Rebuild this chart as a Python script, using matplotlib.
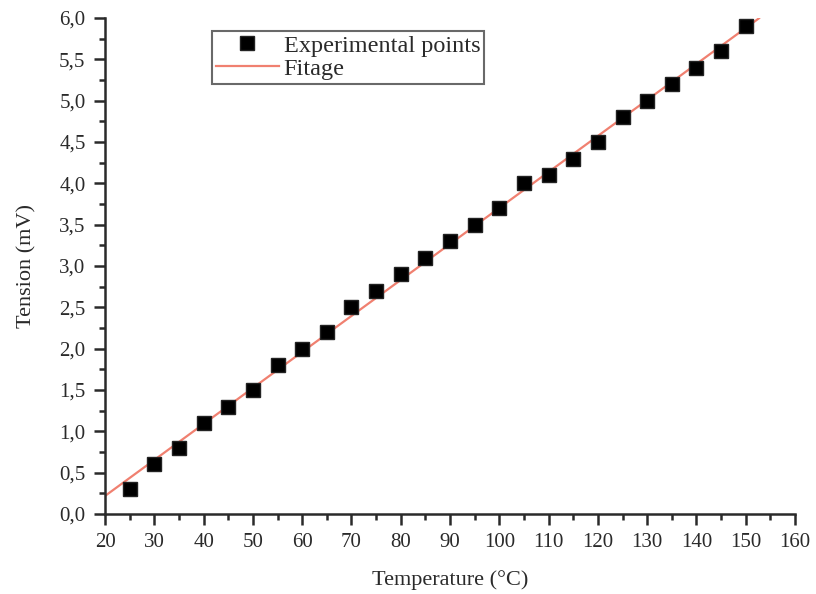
import numpy as np
import matplotlib
matplotlib.use("Agg")
import matplotlib.pyplot as plt
from matplotlib.ticker import MultipleLocator, FuncFormatter

temperature = [25, 30, 35, 40, 45, 50, 55, 60, 65, 70, 75, 80, 85, 90, 95, 100,
               105, 110, 115, 120, 125, 130, 135, 140, 145, 150]
tension = [0.3, 0.6, 0.8, 1.1, 1.3, 1.5, 1.8, 2.0, 2.2, 2.5, 2.7, 2.9, 3.1, 3.3, 3.5, 3.7,
           4.0, 4.1, 4.3, 4.5, 4.8, 5.0, 5.2, 5.4, 5.6, 5.9]
fit_range = [20, 152.7]

plt.rcParams['font.family'] = ['Liberation Serif', 'DejaVu Serif']

fig = plt.figure(figsize=(8.16, 5.94), dpi=100)
ax = fig.add_axes([105/816, 1-514/594, 690/816, 496/594])

slope, intercept = np.polyfit(temperature, tension, 1)
xf = np.array(fit_range)
ax.plot(xf, slope*xf + intercept, color='#f08070', lw=1.6, label='Fitage', zorder=2)
ax.plot(temperature, tension, ls='none', marker='s', ms=9.5, mfc='black', mec='#222222',
        label='Experimental points', zorder=3)

ax.set_xlim(20, 160)
ax.set_ylim(0, 6.0)
ax.xaxis.set_major_locator(MultipleLocator(10))
ax.xaxis.set_minor_locator(MultipleLocator(5))
ax.yaxis.set_major_locator(MultipleLocator(0.5))
ax.yaxis.set_minor_locator(MultipleLocator(0.25))
ax.yaxis.set_major_formatter(FuncFormatter(lambda v, p: f"{v:.1f}".replace('.', ',')))

for s in ['top', 'right']:
    ax.spines[s].set_visible(False)
for s in ['left', 'bottom']:
    ax.spines[s].set_linewidth(1.8)
    ax.spines[s].set_color('#2a2a2a')
ax.tick_params(which='major', length=8, width=1.8, color='#2a2a2a', labelsize=15, pad=6,
               labelcolor='#2a2a2a')
ax.tick_params(which='minor', length=4.5, width=1.8, color='#2a2a2a')

ax.set_xlabel('Temperature (°C)', fontsize=16, color='#2a2a2a', labelpad=13)
ax.set_ylabel('Tension (mV)', fontsize=16, color='#2a2a2a', labelpad=16)

handles, labels = ax.get_legend_handles_labels()
leg = ax.legend(handles[::-1], labels[::-1], loc='upper left', bbox_to_anchor=(107/690, 1-(30-17)/496),
                fontsize=17.5, frameon=True, fancybox=False, borderpad=0.15, labelspacing=0.05,
                handlelength=2.6, handletextpad=0.2, borderaxespad=0)
leg.get_frame().set_edgecolor('#444444')
leg.get_frame().set_linewidth(1.5)
for t in leg.get_texts():
    t.set_color('#2a2a2a')

fig.savefig('out.png', dpi=100)
